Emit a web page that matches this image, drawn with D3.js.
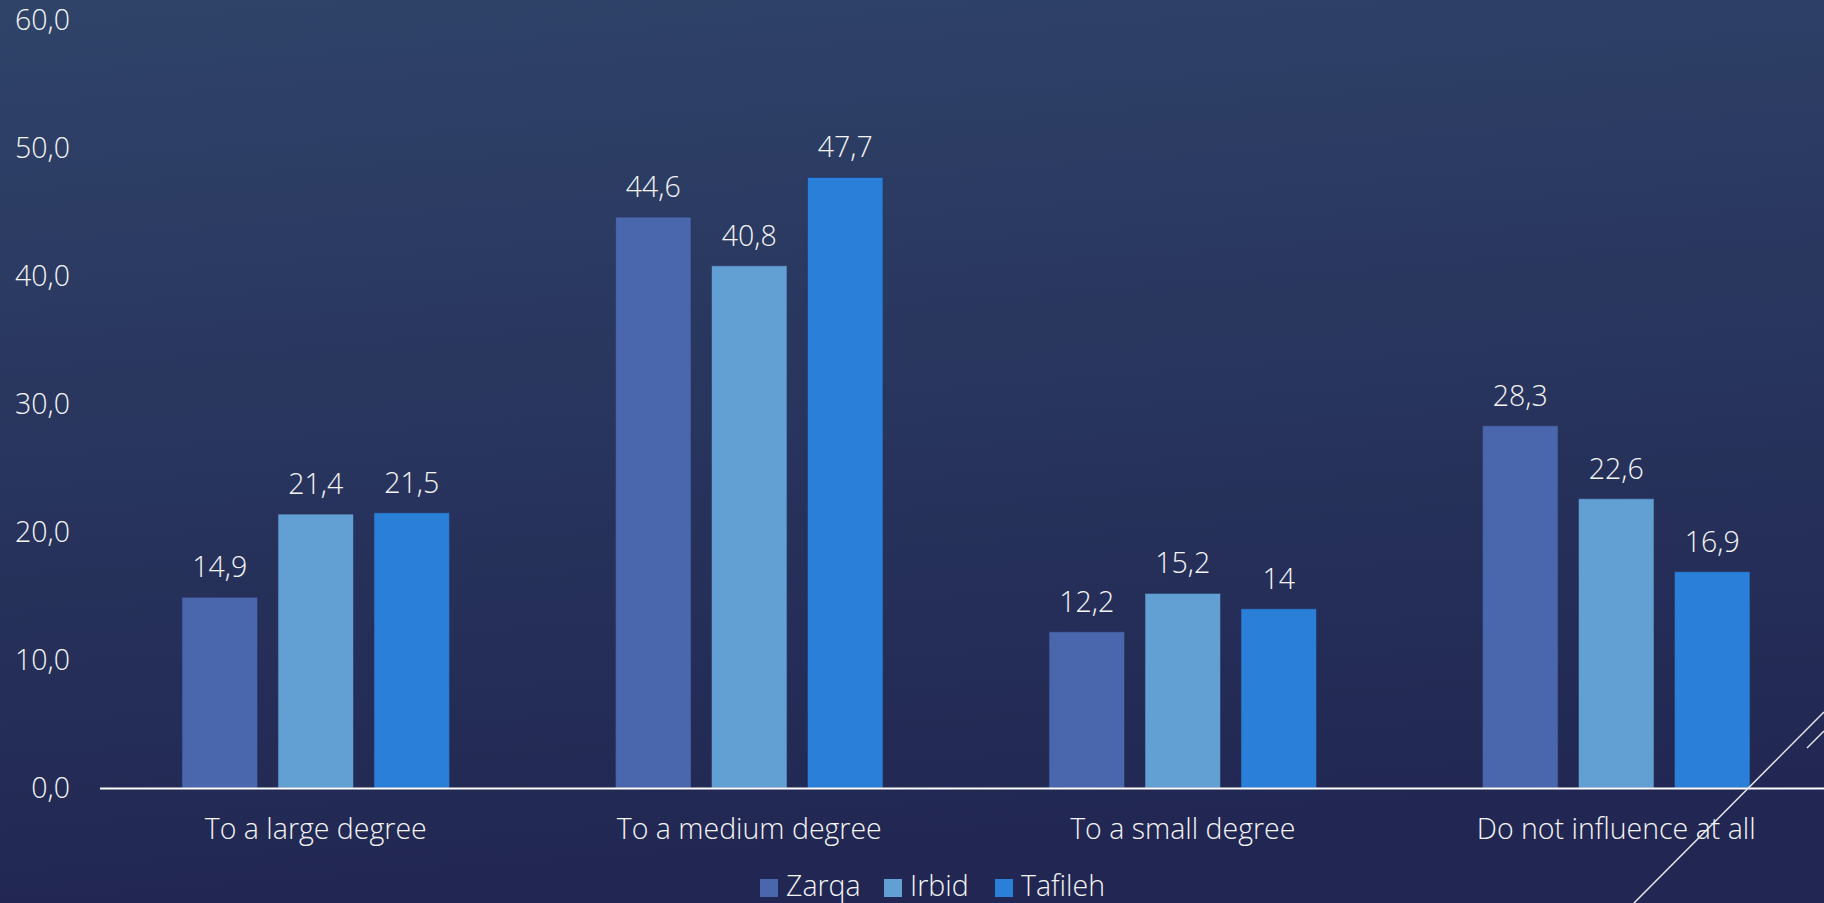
<!DOCTYPE html>
<html><head><meta charset="utf-8">
<script src="https://cdn.jsdelivr.net/npm/d3@7"></script>
<style>
html,body{margin:0;padding:0;overflow:hidden;background:#26305a;}
svg{display:block;}
text{font-family:"Open Sans","Noto Sans",sans-serif;font-weight:300;fill:#f5f5f5;}
</style></head><body>
<svg id="chart" width="1824" height="903"></svg>
<script>
const categories = ["To a large degree", "To a medium degree", "To a small degree", "Do not influence at all"];
const seriesNames = ["Zarqa", "Irbid", "Tafileh"];
const zarqa = [14.9, 44.6, 12.2, 28.3];
const irbid = [21.4, 40.8, 15.2, 22.6];
const tafileh = [21.5, 47.7, 14, 16.9];
const yTicks = [0, 10, 20, 30, 40, 50, 60];
const colors = ["#4a67ae", "#629fd3", "#2a7fd9"];

const seriesValues = [zarqa, irbid, tafileh];
const W = 1824, H = 903;
const FS = 28.5;
const svg = d3.select("#chart");

const defs = svg.append("defs");
const grad = defs.append("linearGradient").attr("id","bg").attr("x1","0").attr("y1","0").attr("x2","0.15").attr("y2","1");
grad.append("stop").attr("offset","0%").attr("stop-color","#2f4369");
grad.append("stop").attr("offset","100%").attr("stop-color","#212752");
svg.append("rect").attr("width",W).attr("height",H).attr("fill","url(#bg)");

const y = d3.scaleLinear().domain([0, 60]).range([788, 20]);
const x0 = d3.scaleBand().domain(categories).range([99, 1833]).paddingInner(0).paddingOuter(0);
const x1 = d3.scaleBand().domain(seriesNames).range([0, x0.bandwidth()]).paddingInner(0.2135).paddingOuter(0.865);
const color = d3.scaleOrdinal().domain(seriesNames).range(colors);

// y-axis labels
const fmt1 = v => d3.format(".1f")(v).replace(".", ",");
svg.append("g").selectAll("text").data(yTicks).join("text")
  .attr("x", 70).attr("y", d => y(d)).attr("dy", "0.36em")
  .attr("text-anchor", "end").attr("font-size", FS)
  .text(fmt1);

// bars
const groups = svg.append("g").selectAll("g").data(categories).join("g")
  .attr("transform", d => `translate(${x0(d)},0)`);
const fmtVal = v => String(v).replace(".", ",");
groups.each(function(cat, ci) {
  const g = d3.select(this);
  const data = seriesNames.map((s, si) => ({s, v: seriesValues[si][ci]}));
  g.selectAll("rect").data(data).join("rect")
    .attr("x", d => x1(d.s)).attr("width", x1.bandwidth())
    .attr("y", d => y(d.v)).attr("height", d => y(0) - y(d.v))
    .attr("fill", d => color(d.s))
    .attr("stroke", "rgba(40,55,100,0.6)").attr("stroke-width", 1);
  g.selectAll("text.val").data(data).join("text").attr("class","val")
    .attr("x", d => x1(d.s) + x1.bandwidth()/2).attr("y", d => y(d.v) - 20)
    .attr("text-anchor", "middle").attr("font-size", FS)
    .text(d => fmtVal(d.v));
});

// x axis line
svg.append("line").attr("x1", 100).attr("x2", W).attr("y1", y(0)+0.5).attr("y2", y(0)+0.5)
  .attr("stroke", "#ffffff").attr("stroke-width", 2);

// category labels
svg.append("g").selectAll("text").data(categories).join("text")
  .attr("x", d => x0(d) + x0.bandwidth()/2).attr("y", 839)
  .attr("text-anchor", "middle").attr("font-size", FS)
  .text(d => d);

// legend
const legendX = [760, 884, 995];
const lg = svg.append("g").selectAll("g").data(seriesNames).join("g")
  .attr("transform", (d, i) => `translate(${legendX[i]},879)`);
lg.append("rect").attr("width", 18).attr("height", 18).attr("fill", d => color(d));
lg.append("text").attr("x", 26).attr("y", 17).attr("font-size", FS).text(d => d);

// decorative theme lines
svg.append("line").attr("x1",1634).attr("y1",903).attr("x2",1824).attr("y2",712)
  .attr("stroke","#e8e8e8").attr("stroke-width",1.5);
svg.append("line").attr("x1",1807).attr("y1",748).attr("x2",1824).attr("y2",731)
  .attr("stroke","#e8e8e8").attr("stroke-width",1.5);
</script>
</body></html>
